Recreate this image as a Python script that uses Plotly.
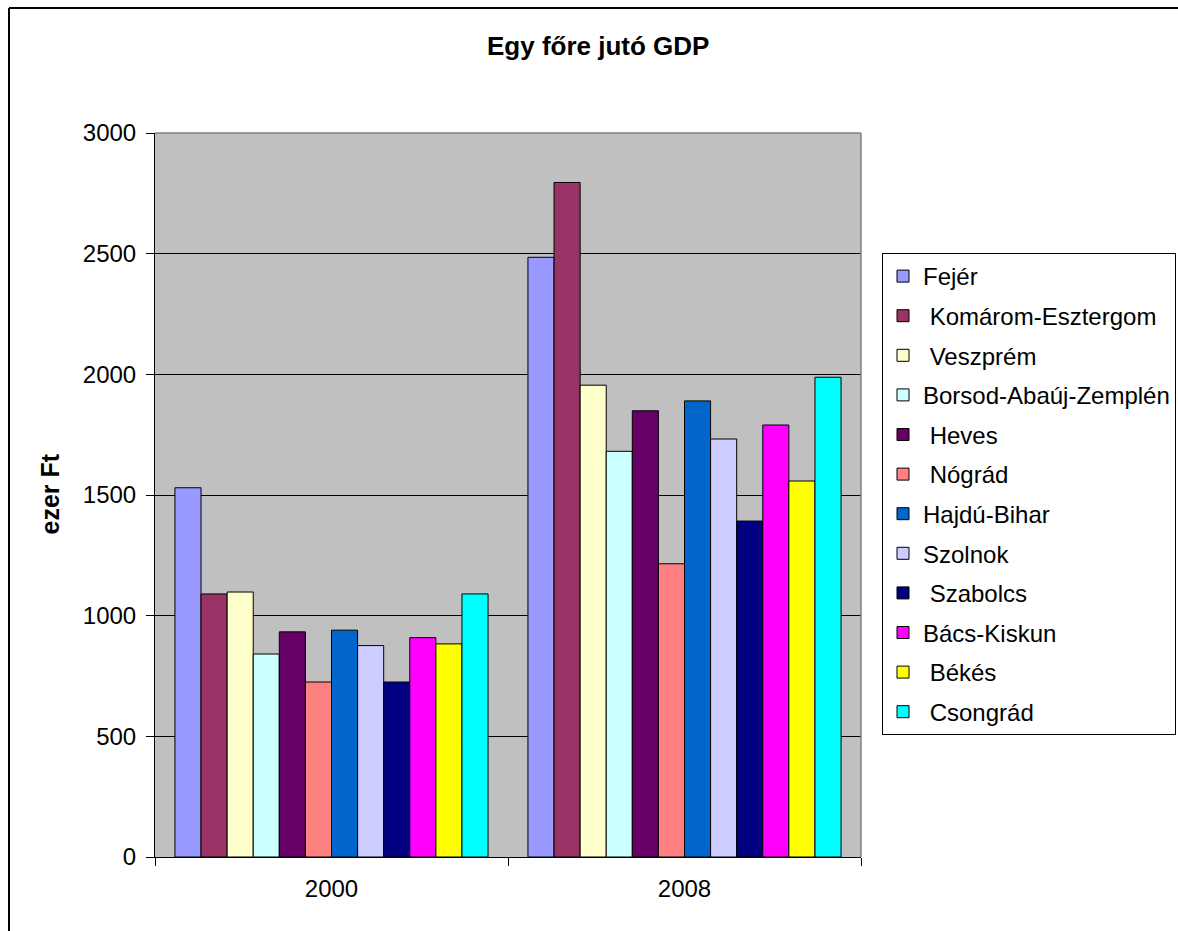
import plotly.graph_objects as go

# Per-capita GDP by county (thousand HUF)
years = ["2000", "2008"]
counties = [
    "Fejér", "\u00a0Komárom-Esztergom", "\u00a0Veszprém", "Borsod-Abaúj-Zemplén",
    "\u00a0Heves", "\u00a0Nógrád", "Hajdú-Bihar", "Szolnok", "\u00a0Szabolcs",
    "Bács-Kiskun", "\u00a0Békés", "\u00a0Csongrád",
]
gdp_2000 = [1530, 1090, 1098, 841, 933, 725, 940, 876, 725, 909, 883, 1090]
gdp_2008 = [2485, 2795, 1955, 1681, 1849, 1215, 1890, 1732, 1392, 1790, 1558, 1988]
colors = [
    "#9999FF", "#993366", "#FFFFCC", "#CCFFFF", "#660066", "#FF8080",
    "#0066CC", "#CCCCFF", "#000080", "#FF00FF", "#FFFF00", "#00FFFF",
]

FONT = "Liberation Sans, Arial, sans-serif"

fig = go.Figure()
for i, name in enumerate(counties):
    fig.add_trace(go.Bar(
        x=years,
        y=[gdp_2000[i], gdp_2008[i]],
        name=name,
        legendgroup=str(i),
        marker=dict(color=colors[i], line=dict(color="black", width=1)),
    ))

W, H = 1178, 931
L, R, T, B = 155, 861, 133, 857  # plot area edges in pixels


def px(x):
    return (x - L) / (R - L)


def py(y):
    return (B - y) / (B - T)


shapes = [
    # chart frame (left and top edges; the rest runs past the page)
    dict(type="line", xref="paper", yref="paper",
         x0=px(9), x1=px(9), y0=py(8), y1=py(940),
         line=dict(color="black", width=2), layer="above"),
    dict(type="line", xref="paper", yref="paper",
         x0=px(9), x1=px(1190), y0=py(8), y1=py(8),
         line=dict(color="black", width=2), layer="above"),
    # top and right edges of the plot area
    dict(type="line", xref="paper", yref="paper", x0=0, x1=1, y0=1, y1=1,
         line=dict(color="#808080", width=1.5), layer="above"),
    dict(type="line", xref="paper", yref="paper", x0=1, x1=1, y0=0, y1=1,
         line=dict(color="#808080", width=1.5), layer="above"),
]

annotations = [
    dict(text="<b>Egy főre jutó GDP</b>", xref="paper", yref="paper",
         x=px(598), y=py(46), xanchor="center", yanchor="middle",
         showarrow=False, font=dict(family=FONT, size=26, color="black")),
    dict(text="<b>ezer Ft</b>", xref="paper", yref="paper",
         x=px(49.5), y=py(494), xanchor="center", yanchor="middle", textangle=-90,
         showarrow=False, font=dict(family=FONT, size=25, color="black")),
]

fig.update_layout(
    width=W, height=H,
    margin=dict(l=L, r=W - R, t=T, b=H - B, pad=0, autoexpand=False),
    paper_bgcolor="white",
    plot_bgcolor="#C0C0C0",
    barmode="group",
    bargap=0.113,
    bargroupgap=0,
    font=dict(family=FONT, size=24, color="black"),
    shapes=shapes,
    annotations=annotations,
    legend=dict(
        x=px(882), y=py(253), xanchor="left", yanchor="top",
        bordercolor="black", borderwidth=1, bgcolor="white",
        font=dict(family=FONT, size=24, color="black"),
        traceorder="grouped", tracegroupgap=5.4, itemwidth=30,
    ),
    xaxis=dict(
        type="category", tickson="boundaries",
        showline=True, linecolor="black", linewidth=1,
        ticks="outside", ticklen=8, tickcolor="black", tickwidth=1,
        showgrid=False, zeroline=False, ticklabelstandoff=10,
        tickfont=dict(family=FONT, size=24, color="black"),
    ),
    yaxis=dict(
        range=[0, 3000], dtick=500, tick0=0,
        showline=True, linecolor="black", linewidth=1,
        ticks="outside", ticklen=8, tickcolor="black", tickwidth=1,
        showgrid=True, gridcolor="black", gridwidth=1.3,
        zeroline=False, ticklabelstandoff=5,
        tickfont=dict(family=FONT, size=24, color="black"),
    ),
)

fig.write_html("out.html")
